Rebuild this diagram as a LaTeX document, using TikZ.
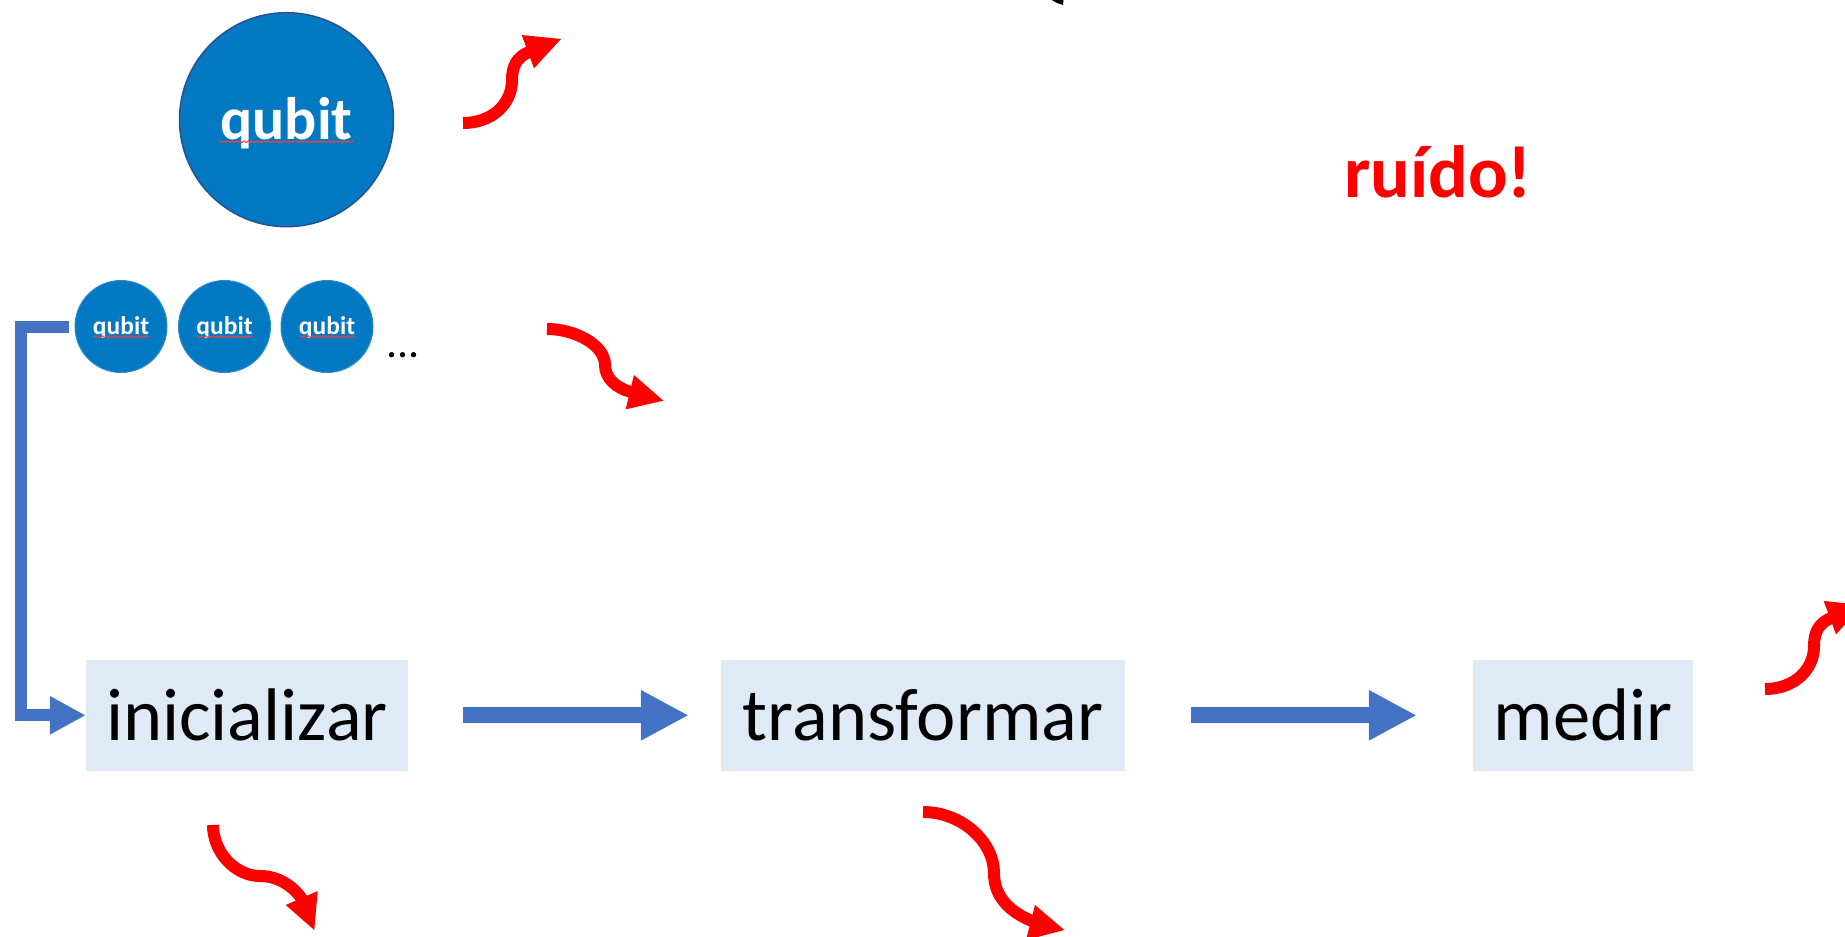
\documentclass[tikz,border=0pt]{standalone}
\usepackage{fontspec}
\setmainfont{Carlito}
\usetikzlibrary{arrows.meta,decorations.pathmorphing}
\definecolor{qblue}{RGB}{2,121,194}
\definecolor{qedge}{RGB}{41,82,140}
\definecolor{boxfill}{RGB}{222,235,247}
\definecolor{flowblue}{RGB}{68,114,196}
\definecolor{noisered}{RGB}{255,0,0}
\definecolor{spellred}{RGB}{230,70,70}
\tikzset{
  flowbox/.style={rectangle, fill=boxfill, inner sep=0pt, minimum height=110.7pt,
    text height=51pt, text depth=0pt, font=\fontsize{74.5}{74.5}\selectfont},
  bigqubit/.style={circle, fill=qblue, draw=qedge, line width=1.5pt, minimum size=214pt,
    inner sep=0pt, text=white, font=\bfseries\fontsize{60}{60}\selectfont,
    text height=40pt, text depth=0pt},
  smallqubit/.style={circle, fill=qblue, draw=qblue!85!white, line width=1pt, minimum size=92pt,
    inner sep=0pt, text=white, font=\bfseries\fontsize{25.5}{25.5}\selectfont,
    text height=15.6pt, text depth=0pt},
  flowarrow/.style={draw=flowblue, line width=16pt, -{Triangle[length=48pt,width=47pt]}},
  loopconn/.style={draw=flowblue, line width=12pt, -{Triangle[length=36pt,width=36pt]}},
  noise/.style={draw=noisered, line width=12pt},
  noisehead/.style={fill=noisered},
  spell/.style={draw=spellred, line width=1pt, decorate,
    decoration={snake, segment length=4pt, amplitude=0.9pt}},
  noiseup/.pic={
    \draw[noise] (0,0) .. controls (29,0) and (49,-19) .. (49,-43)
      .. controls (49,-57) and (54,-66) .. (66,-71);
    \fill[noisehead] (58.7,-88) -- (98,-84) -- (71,-54.7) -- cycle;
  }
}
\begin{document}
\begin{tikzpicture}[x=1pt,y=-1pt]
\useasboundingbox (0,0) rectangle (1845,937);
\clip (0,0) rectangle (1845,937);

% qubits
\node[bigqubit] (q0) at (286.5,119.7) {qubit};
\draw[spell] (219,141.7) -- (354,141.7);
\node[smallqubit] (q1) at (121,326.5) {qubit};
\node[smallqubit] (q2) at (224.5,326.5) {qubit};
\node[smallqubit] (q3) at (327,326.5) {qubit};
\foreach \q in {q1,q2,q3}{
  \draw[spell] ([xshift=-28pt,yshift=-10.2pt]\q.center) -- ([xshift=28pt,yshift=-10.2pt]\q.center);
}
\node[anchor=base west, inner sep=0pt, font=\fontsize{44}{44}\selectfont] (dots) at (386,357) {...};

% flow boxes
\node[flowbox, minimum width=322pt] (ini) at (247,715.3) {inicializar};
\node[flowbox, minimum width=404pt] (trans) at (923,715.3) {transformar};
\node[flowbox, minimum width=220pt] (medir) at (1583,715.3) {medir};

% connectors
\draw[loopconn] ([xshift=-6pt]q1.west) -- ++(-48,0) |- (ini.west);
\draw[flowarrow, shorten <=55pt, shorten >=32pt] (ini.east) -- (trans.west);
\draw[flowarrow, shorten <=66pt, shorten >=56pt] (trans.east) -- (medir.west);

% noise label
\node[anchor=base, inner sep=0pt, text=noisered, font=\bfseries\fontsize{74}{74}\selectfont] (ruido) at (1438,197.3) {ruído!};

% noise arrows
\coordinate (n1) at (463,123);
\coordinate (n6) at (1765,689);
\pic at (n1) {noiseup};
\pic at (n6) {noiseup};

\coordinate (n3) at (547,329);
\draw[noise] (n3) .. controls (575,329) and (605,345) .. (605,365)
  .. controls (605,378) and (616,388) .. (631,392);
\fill[noisehead] (634,375) -- (663.3,400.7) -- (625.7,409.3) -- cycle;

\coordinate (n4) at (213,825);
\draw[noise] (n4) .. controls (213,852) and (235,876) .. (260,876)
  .. controls (278,876) and (293,886) .. (302,899);
\fill[noisehead] (317.7,891) -- (314.3,930) -- (285.7,905) -- cycle;

\coordinate (n5) at (923,812);
\draw[noise] (n5) .. controls (962,812) and (994,842) .. (994,873)
  .. controls (994,897) and (1010,912) .. (1032,921);
\fill[noisehead] (1035,905) -- (1064.3,930) -- (1026,940) -- cycle;

% black fragment at top edge
\fill (1051.7,0) -- (1063.5,0) -- (1063,5) -- (1057,3) -- cycle;
\end{tikzpicture}
\end{document}
